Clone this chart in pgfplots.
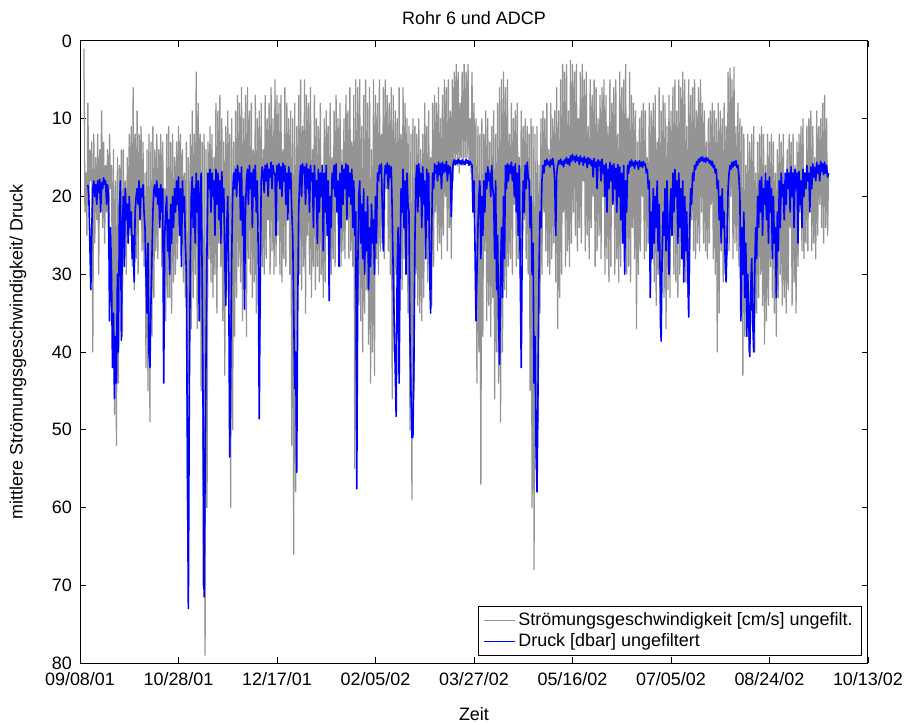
\documentclass[border=0pt]{standalone}
\usepackage{fontspec}
\setmainfont{Liberation Sans}
\usepackage{pgfplots}
\usepackage{pgfplotstable}
\pgfplotsset{compat=1.18}
\definecolor{stromgray}{RGB}{148,148,148}
\definecolor{druckblue}{RGB}{0,0,255}
% Stroemungsgeschwindigkeit, every half day from day 2 (09/10/01)
\pgfplotstableread{
y
1
22
17
25
8
20
14
18
13
40
12
26
15
23
12
30
14
19
9
24
13
26
16
22
14
27
12
19
16
36
14
48
18
52
15
44
16
24
14
38
14
28
18
30
15
26
12
25
11
29
6
32
12
28
9
30
12
20
11
27
13
29
17
42
14
45
12
49
13
38
11
33
14
27
12
28
14
20
12
29
13
30
19
36
12
33
11
33
13
35
12
31
15
30
13
28
11
24
12
27
14
31
17
33
13
59
15
44
12
37
9
33
12
30
4
37
8
25
12
45
13
70
12
79
14
60
13
28
11
31
12
33
15
30
8
35
9
26
7
29
10
36
13
43
11
33
9
25
12
60
10
50
13
38
9
33
7
29
8
31
6
36
10
32
7
38
6
28
9
30
8
33
14
31
7
35
10
24
9
38
8
29
14
30
7
28
10
23
8
30
6
27
10
30
5
29
7
25
8
30
7
31
14
28
6
29
8
21
10
30
9
52
10
66
8
58
11
30
7
30
5
32
11
29
5
35
7
25
8
30
6
33
14
29
7
32
10
29
11
31
8
30
17
33
10
31
9
22
11
33
8
30
15
28
9
29
7
21
10
28
8
29
14
27
10
28
7
20
9
28
6
27
13
29
7
55
5
50
6
34
5
36
11
40
7
35
5
32
8
39
6
44
14
40
5
43
7
28
8
30
5
27
12
26
6
28
5
19
7
27
8
30
6
46
7
40
9
30
10
33
6
30
12
32
6
28
8
25
10
35
11
50
12
59
10
45
11
30
12
34
10
35
14
36
12
33
8
26
11
31
9
30
15
34
8
29
7
22
8
27
6
26
10
28
7
25
5
20
6
27
5
24
9
28
5
18
4
16
3
16
4
17
8
15
4
16
3
15
4
15
3
16
10
17
4
20
8
22
10
44
11
40
12
57
10
38
12
27
9
36
10
34
13
38
11
33
9
46
12
40
8
44
6
49
5
40
4
32
6
33
5
29
12
28
8
30
10
21
9
29
8
28
15
30
9
27
11
23
10
28
11
30
12
45
10
60
11
68
12
55
11
50
16
35
10
30
9
22
10
27
8
29
14
30
8
28
10
26
9
31
6
37
9
33
5
30
3
22
4
29
3
27
9
29
2.5
26
3
22
4
25
3
27
10
24
4
26
3
18
5
27
4
25
11
28
5
24
7
20
5
29
6
27
10
25
7
28
6
20
5
30
7
28
11
31
5
29
8
21
6
30
5
28
12
31
4
29
6
24
5
28
3
30
10
29
4
31
7
24
8
28
9
37
13
30
10
27
9
20
8
28
9
27
15
26
8
30
9
27
8
31
7
34
13
30
6
37
9
29
7
33
8
37
11
32
7
33
9
25
6
30
5
31
9
33
5
30
6
26
4
30
5
31
11
33
5
30
7
23
6
27
5
28
9
26
6
27
5
22
8
26
9
27
13
28
10
26
9
21
8
28
9
30
10
40
8
35
9
27
10
31
8
30
11
28
4
27
3.5
20
5
28
3.4
26
11
27
8
29
10
30
11
43
12
38
16
36
12
40
13
31
12
36
11
40
17
35
13
33
12
30
11
34
12
39
16
36
12
34
13
29
12
33
13
35
17
38
14
33
12
30
13
34
12
33
18
35
14
32
12
24
13
34
12
31
16
35
13
29
12
22
11
27
10
28
17
26
11
27
10
19
9
27
11
26
15
28
9
25
11
21
10
24
8
26
7
24
10
25
17
}\graydata
% Druck, every half day from day 4 (09/12/01)
\pgfplotstableread{
y
18.5
20
26
32
24
19
18
20
18.5
21
18
19.5
17.8
22
18.2
19
17.6
18.4
18
21
18.5
20
36
24
30
42
35
46
38
44
30
40
22
18
38.5
24
20
29
19
23
21
26
20
24
22
28
25
31
22
20
19
21
18
23
19
20
18.5
22
24
30
35
26
40
42
34
28
22
19
18.5
20
18
21
19
24
18.5
22
19
44
25
22
20
27
23
30
21
26
20
24
19
22
18
21
17.5
25
19
29
18
22
20
26
30
52
73
45
28
20
17.5
24
19
26
17
22
18
36
20
17
30
48
71.5
56
40
26
17
19
16.5
22
17
20
18
25
16.5
21
17
23
18
26
16.8
22
19
28
34
24
20
30
53.5
42
28
20
17
19
16.5
20
16
18
17
23
16.2
25
20
34.5
22
18
16.5
21
16
19
17
24
16.5
20
16
22
18
28
48.6
30
18
16.2
17
19.5
16
18
15.8
20
16.5
17.5
15.6
19
16
17
17
25
16
18
15.8
19
16.2
20
15.7
18
16
21
17
23
16.2
19
17
22
25
35
44.7
40
55.5
35
22
18
16
20
15.8
17
16.2
21
15.8
19
16.5
22
16
18
17
24
16
20
18
26
16.5
22
17
20
16
27
17
22
16
25
18
33.4
20
24
17
19
16
20
15.8
22
18
29
17
24
16
21
16.5
19
15.8
23
16
20
17
21
16.5
24
18
25
22
57.6
30
20
18
26
21
28
19
30
22
27
20
32
24
29
21
26
23
30
20
26
17
18
16
17
15.8
22
27
18
16
17
15.7
19
16
17.5
16.2
22
30
36
42
48.3
30
24
44
28
19
22
16.5
24
18
30
17
21
22
38
45
51
51
42
26
18
16
22
15.8
20
17
24
16.2
21
18
28
16.5
23
17
30
35
25
17
19
15.8
17
16
18
15.6
17.2
15.8
19
15.6
17
15.9
16.8
15.5
18
16
17
16.2
22.6
17
15.6
15.3
15.9
15.4
15.8
15.2
15.7
15.4
15.9
15.3
15.8
15.5
15.9
15.2
15.7
15.4
16
15.5
15.8
16
22
18
26
36
30
24
20
18
28
20
25
18
22
17
19
16.2
18
17
20
16
19
20
28
18
32
25
36
41.6
30
24
33
20
28
16
19
15.8
18
16
17
15.6
18
16.2
20
15.8
22
17
25
16
30
42
26
18
22
16
19
15.6
17.5
18
24
20
30
26
44
38
52
58
45
30
22
24
18
16
17
15.4
16
15.2
15.9
15.5
16.2
15.3
15.9
15.1
16
18
25
17
16
15.4
15.8
15.2
15.9
15.5
16.2
15.3
15.7
15
15.8
15.2
16
14.8
15.5
14.6
15.3
14.9
15.6
14.7
15.4
15
15.9
14.8
15.5
15.1
16
14.9
15.6
15.2
16.3
15
15.8
15.2
16
15.4
17.5
15.1
16.2
15.6
19
15.3
16
15.5
18
15.2
17
16
20
15.8
22
16.5
19
15.6
18
16
21
15.8
19
16.4
22
15.9
20
16.2
23
17
26
16
30
18
22
16
17
15.5
16.2
15.3
16
15.6
16.4
15.4
15.9
15.6
16.5
15.4
16.1
15.6
16.3
15.5
16
15.8
17
16.5
19
18
33
22
28
19
26
20
24
18
27
21
30
38.6
28
22
25
19
27
18
24
30
22
19
25
17
22
16.5
20
18
26
17
24
19
28
18
31
20
27
22
29
35.5
24
19
21
17
18
16
16.5
15.5
16
15.2
15.6
15
15.4
14.9
15.5
15.1
15.6
15
15.4
15.2
15.7
15.4
16
15.5
16.3
16
17
16.5
19
18
23
20
26
19
24
22
28
31
25
19
17
16
16.5
15.6
16.2
15.5
16
15.4
16.3
16
17.5
20
36
24
30
22
33
26
38
30
36
40.6
32
28
36
40
30
24
28
20
24
18
22
17.5
25
19
21
17
23
18
26
17.5
22
19
28
20
26
24
33
22
27
18
24
17
20
18.5
23
17
21
16.5
19
17
22
16.2
20
17
24
16.5
19
17
26
16.8
21
18
24
16.5
20
17
19
16
18
17
22
16.2
19
15.8
17.5
16.3
18
15.6
17
16
18
15.5
16.8
15.8
17.2
15.6
17
16
17.5
17
}\bluedata
\begin{document}
\begin{tikzpicture}
\begin{axis}[
  scale only axis,
  width=438.9pt, height=346.5pt,
  xmin=0, xmax=400, ymin=0, ymax=80,
  y dir=reverse,
  xtick={0,50,...,400},
  xticklabels={09/08/01,10/28/01,12/17/01,02/05/02,03/27/02,05/16/02,07/05/02,08/24/02,10/13/02},
  ytick={0,10,...,80},
  tick align=inside,
  major tick length=3.5pt,
  tick style={black, line width=0.5pt},
  axis line style={black, line width=0.55pt},
  every tick label/.append style={font=\fontsize{10}{12}\selectfont},
  xticklabel style={yshift=-1.5pt},
  yticklabel style={xshift=-1pt},
  /pgf/number format/assume math mode=true,
  title={Rohr 6 und ADCP},
  title style={at={(axis description cs:0.5,1)}, anchor=center, yshift=6.8pt, font=\fontsize{10}{12}\selectfont},
  xlabel={Zeit},
  xlabel style={at={(axis description cs:0.5,0)}, anchor=center, yshift=-28.4pt, font=\fontsize{10}{12}\selectfont},
  ylabel={mittlere Strömungsgeschwindigkeit/ Druck},
  ylabel style={at={(axis description cs:-0.0787,0.5)}, anchor=center, font=\fontsize{10}{12}\selectfont},
  legend style={at={(axis description cs:0.9924,0.0113)}, anchor=south east, draw=black, fill=white,
    font=\fontsize{10}{12}\selectfont, inner xsep=3pt, inner ysep=1.5pt, row sep=-1pt},
  legend cell align=left,
]
\addplot[draw=stromgray, line width=0.7pt, line join=round,
  legend image code/.code={\fill[fill=stromgray, draw=none] (0cm,-0.45pt) rectangle (0.6cm,0.45pt);}]
  table[x expr=\coordindex*0.5+2, y=y] {\graydata};
\addlegendentry{Strömungsgeschwindigkeit [cm/s] ungefilt.}
\addplot[draw=druckblue, line width=0.9pt, line join=round,
  legend image code/.code={\fill[fill=druckblue, draw=none] (0cm,-0.5pt) rectangle (0.6cm,0.5pt);}]
  table[x expr=\coordindex*0.5+4, y=y] {\bluedata};
\addlegendentry{Druck [dbar] ungefiltert}
\end{axis}
\pgfresetboundingbox
\path[use as bounding box] (-44.56pt,-34.5pt) rectangle (460.1pt,369.3pt);
\end{tikzpicture}
\end{document}
